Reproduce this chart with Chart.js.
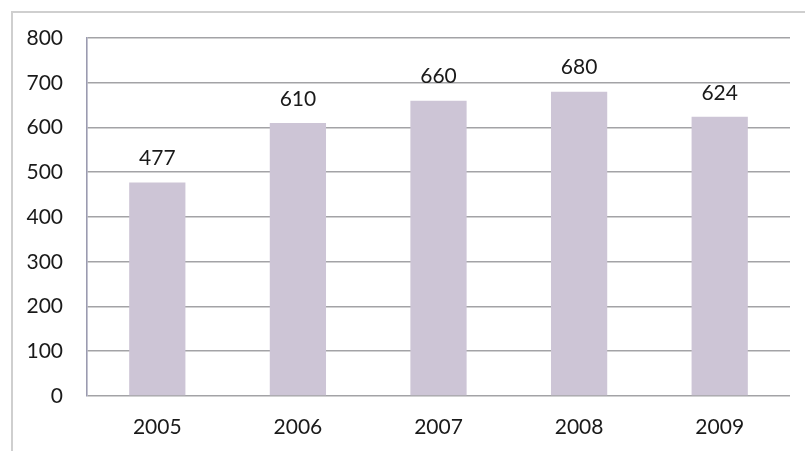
<!DOCTYPE html>
<html>
<head>
<meta charset="utf-8">
<script src="https://cdn.jsdelivr.net/npm/chart.js@4/dist/chart.umd.min.js"></script>
<style>
  html, body { margin: 0; padding: 0; background: #fff; }
  #wrap { width: 805px; height: 451px; position: relative; }
</style>
</head>
<body>
<div id="wrap"><canvas id="c" width="805" height="451"></canvas></div>
<script>
// Yearly totals
const years = ['2005', '2006', '2007', '2008', '2009'];
const totals = [477, 610, 660, 680, 624];
const yTicks = [0, 100, 200, 300, 400, 500, 600, 700, 800];

const FONT = 'Lato, "Open Sans", sans-serif';
const TEXT = '#1a1a1a';

// Light frame along the top and left edges of the chart object
const framePlugin = {
  id: 'frame',
  beforeDraw(chart) {
    const ctx = chart.ctx;
    ctx.save();
    ctx.strokeStyle = '#cfcfcf';
    ctx.lineWidth = 2;
    ctx.beginPath();
    ctx.moveTo(12, chart.height);
    ctx.lineTo(12, 12);
    ctx.lineTo(chart.width, 12);
    ctx.stroke();
    ctx.restore();
  }
};

// Value label above each bar
const valueLabels = {
  id: 'valueLabels',
  afterDatasetsDraw(chart) {
    const ctx = chart.ctx;
    const meta = chart.getDatasetMeta(0);
    const data = chart.data.datasets[0].data;
    ctx.save();
    ctx.font = '21px ' + FONT;
    ctx.fillStyle = TEXT;
    ctx.textAlign = 'center';
    ctx.textBaseline = 'middle';
    meta.data.forEach((bar, i) => {
      ctx.fillText(String(data[i]), bar.x, bar.y - 24);
    });
    ctx.restore();
  }
};

new Chart(document.getElementById('c'), {
  type: 'bar',
  data: {
    labels: years,
    datasets: [{
      data: totals,
      backgroundColor: '#cdc5d6',
      borderWidth: 0,
      categoryPercentage: 1,
      barPercentage: 0.4
    }]
  },
  options: {
    responsive: false,
    animation: false,
    devicePixelRatio: 1,
    layout: { padding: { top: 38, right: 15, bottom: 11, left: 0 } },
    plugins: {
      legend: { display: false },
      tooltip: { enabled: false }
    },
    scales: {
      x: {
        afterFit(scale) { scale.height = 44; },
        grid: { display: false, drawTicks: false },
        border: { display: false },
        ticks: {
          color: TEXT,
          font: { family: FONT, size: 21 },
          padding: 19
        }
      },
      y: {
        min: 0,
        max: 800,
        afterFit(scale) { scale.width = 87; },
        afterBuildTicks(scale) { scale.ticks = yTicks.map(v => ({ value: v })); },
        grid: { color: '#a3a3a6', lineWidth: 1.6, drawTicks: false },
        border: { display: true, color: '#9b9bb0', width: 1.6 },
        ticks: {
          color: TEXT,
          font: { family: FONT, size: 21 },
          padding: 24
        }
      }
    }
  },
  plugins: [framePlugin, valueLabels]
});
</script>
</body>
</html>
